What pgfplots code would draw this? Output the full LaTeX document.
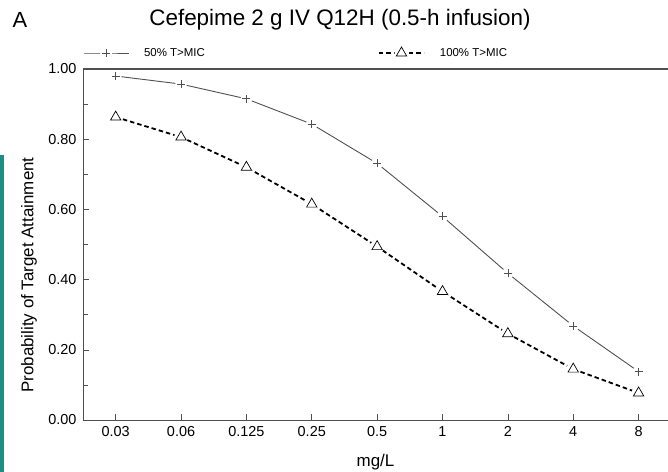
\documentclass[border=0pt]{standalone}
\usepackage{fontspec}
\setmainfont{Liberation Sans}
\usepackage{pgfplots}
\pgfplotsset{compat=1.18}
\definecolor{teal1}{RGB}{30,142,132}
\definecolor{lgray}{RGB}{80,80,80}
\pgfplotsset{longlegend/.style={legend image code/.code={\draw[mark repeat=2,mark phase=2,##1] plot coordinates {(0bp,0bp)(22.5bp,0bp)(45bp,0bp)};}}}
\pgfdeclareplotmark{plusgap}{%
  \pgfpathcircle{\pgfpointorigin}{1.45\pgfplotmarksize}%
  \pgfsetfillcolor{white}\pgfusepathqfill
  \pgfpathmoveto{\pgfqpoint{-\pgfplotmarksize}{0pt}}\pgfpathlineto{\pgfqpoint{\pgfplotmarksize}{0pt}}%
  \pgfpathmoveto{\pgfqpoint{0pt}{-\pgfplotmarksize}}\pgfpathlineto{\pgfqpoint{0pt}{\pgfplotmarksize}}%
  \pgfusepathqstroke}
\pgfdeclareplotmark{trigap}{%
  \pgfpathcircle{\pgfpointorigin}{1.15\pgfplotmarksize}%
  \pgfsetfillcolor{white}\pgfusepathqfill
  \pgfpathmoveto{\pgfqpointpolar{90}{\pgfplotmarksize}}%
  \pgfpathlineto{\pgfqpointpolar{-30}{\pgfplotmarksize}}%
  \pgfpathlineto{\pgfqpointpolar{210}{\pgfplotmarksize}}%
  \pgfpathclose
  \pgfusepathqstroke}
\begin{document}
\begin{tikzpicture}
\begin{axis}[
  scale only axis, width=585bp, height=351bp,
  xmin=-0.5, xmax=8.45, ymin=0, ymax=1,
  axis x line*=bottom, axis y line*=left,
  axis line style={lgray, line width=0.8pt},
  xtick={0,1,2,3,4,5,6,7,8},
  xticklabels={0.03,0.06,0.125,0.25,0.5,1,2,4,8},
  ytick={0,0.2,0.4,0.6,0.8,1},
  minor ytick={0.1,0.3,0.5,0.7,0.9},
  /pgf/number format/fixed, /pgf/number format/fixed zerofill, /pgf/number format/precision=2,
  /pgf/number format/assume math mode=true,
  tick align=inside, major tick length=6bp, minor tick length=5bp,
  every tick/.style={lgray, line width=0.6pt},
  ticklabel style={font=\fontsize{14.5}{16}\selectfont},
  yticklabel style={xshift=-3bp},
  xticklabel style={yshift=-3bp},
  xlabel={mg/L}, ylabel={Probability of Target Attainment},
  every axis x label/.style={at={([yshift=-42bp]axis description cs:0.5,0)}, anchor=center, font=\fontsize{17}{19}\selectfont},
  every axis y label/.style={at={([xshift=-54bp]axis description cs:0,0.413)}, anchor=center, rotate=90, font=\fontsize{17}{19}\selectfont},
  legend style={at={([yshift=16bp]axis description cs:0,1)}, anchor=west, draw=none, fill=none,
    inner sep=0pt, column sep=0pt, nodes={inner sep=0pt, font=\fontsize{11.5}{13}\selectfont}},
  legend columns=2, legend cell align=left,
  clip=false,
]
\addplot[lgray, line width=0.9pt, mark=plusgap, mark size=4bp, mark options={solid, line width=0.7pt}, longlegend]
  coordinates {(0,0.980)(1,0.957)(2,0.915)(3,0.843)(4,0.731)(5,0.580)(6,0.418)(7,0.268)(8,0.138)};
\addlegendentry{\makebox[249bp][l]{\hspace{15bp}50\% T>MIC}}
\addplot[black, line width=1.8pt, dash pattern=on 4.5bp off 3bp, mark=trigap, mark size=6bp,
  mark options={solid, line width=0.7pt}, longlegend]
  coordinates {(0,0.863)(1,0.806)(2,0.720)(3,0.615)(4,0.494)(5,0.366)(6,0.246)(7,0.145)(8,0.077)};
\addlegendentry{\hspace{15bp}100\% T>MIC}
\coordinate (ll) at (rel axis cs:0,0);
\coordinate (ur) at (rel axis cs:1,1);
\coordinate (ul) at (rel axis cs:0,1);
\end{axis}
\draw[lgray, line width=1.3pt] (ul) -- (ur);
\node[font=\fontsize{22.5}{26}\selectfont, anchor=center] at ([xshift=257bp, yshift=49bp]ul) {Cefepime 2 g IV Q12H (0.5-h infusion)};
\node[font=\fontsize{22}{26}\selectfont, anchor=center] at ([xshift=-63bp, yshift=49bp]ul) {A};
\fill[teal1] ([xshift=-83bp, yshift=265bp]ll) rectangle ([xshift=-79bp, yshift=-52bp]ll);
\pgfresetboundingbox
\path[use as bounding box] ([xshift=-83bp, yshift=-52bp]ll) rectangle ([yshift=69bp]ur);
\end{tikzpicture}
\end{document}
